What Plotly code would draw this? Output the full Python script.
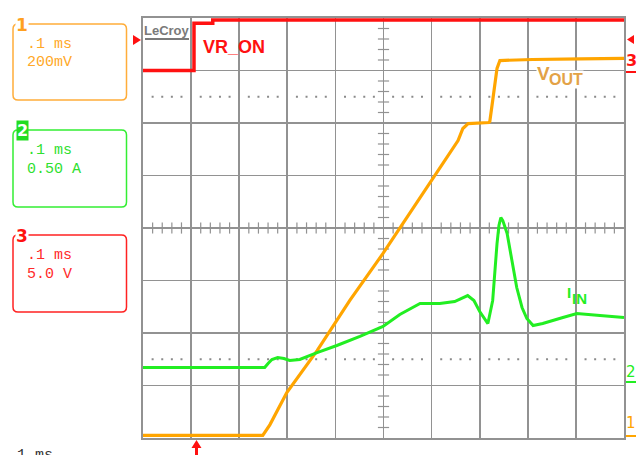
import plotly.graph_objects as go

# ---------------- data ----------------
# time in ms (0.1 ms/div, trigger at t = 0)
vout_t = [-0.110, 0.139, 0.154, 0.189, 0.252, 0.320, 0.389, 0.466, 0.545, 0.555,
          0.566, 0.609, 0.611, 0.617, 0.626, 0.632, 0.700, 0.800, 0.890]
vout_v = [0.010, 0.010, 0.051, 0.173, 0.333, 0.524, 0.703, 0.916, 1.133, 1.179,
          1.198, 1.202, 1.206, 1.286, 1.408, 1.438, 1.442, 1.444, 1.446]

iin_t = [-0.110, 0.143, 0.150, 0.158, 0.170, 0.183, 0.195, 0.216, 0.252, 0.293,
         0.341, 0.389, 0.424, 0.466, 0.507, 0.538, 0.565, 0.578, 0.590, 0.607,
         0.617, 0.622, 0.626, 0.630, 0.634, 0.638, 0.647, 0.657, 0.667, 0.678,
         0.688, 0.701, 0.721, 0.763, 0.792, 0.840, 0.890]
iin_a = [0.121, 0.121, 0.160, 0.198, 0.217, 0.207, 0.188, 0.198, 0.264, 0.331,
         0.417, 0.512, 0.626, 0.731, 0.731, 0.750, 0.807, 0.760, 0.655, 0.540,
         0.760, 1.074, 1.302, 1.474, 1.550, 1.521, 1.398, 1.140, 0.883, 0.693,
         0.588, 0.521, 0.540, 0.598, 0.636, 0.617, 0.598]

vron_t = [-0.110, -0.004, -0.004, 0.035, 0.035, 0.890]
vron_v = [0.0, 0.0, 4.5, 4.5, 4.8, 4.8]

# channel settings (scale per division, ground position in divisions)
ch_labels = {"1": [".1 ms", "200mV"], "2": [".1 ms", "0.50 A"], "3": [".1 ms", "5.0 V"]}
ch1_scale, ch1_gnd = 0.2, 0.0
ch2_scale, ch2_gnd = 0.5, 1.1
ch3_scale, ch3_gnd = 5.0, 7.0
t_div, t_left, n_xdiv, n_ydiv = 0.1, -0.11, 10, 8

# ---------------- styling ----------------
W, H = 638, 455
L, R, T, B = 143, 14, 18, 17
GRID = "#929292"
ORANGE = "#ffa500"
ORANGE_TXT = "#e3a246"
GREEN = "#22ee22"
RED = "#ff1111"


def xp(px):
    return (px - L) / (W - L - R)


def yp(py):
    return (H - B - py) / (H - T - B)


fig = go.Figure()

# centre-axis minor ticks and dotted reference rows (grid decoration)
x_fifths = [t_left + t_div / 5 * k for k in range(1, n_xdiv * 5) if k % 5]
y_fifths = [ch1_scale / 5 * k for k in range(1, n_ydiv * 5) if k % 5]
x_mid = t_left + t_div * n_xdiv / 2
y_mid = ch1_scale * n_ydiv / 2
fig.add_trace(go.Scatter(x=x_fifths, y=[y_mid] * len(x_fifths), mode="markers",
                         marker=dict(symbol="line-ns", size=8, line=dict(width=1.2, color=GRID)),
                         hoverinfo="skip"))
fig.add_trace(go.Scatter(x=[x_mid] * len(y_fifths), y=y_fifths, mode="markers",
                         marker=dict(symbol="line-ew", size=8, line=dict(width=1.2, color=GRID)),
                         hoverinfo="skip"))
for yd in (6.5, 1.5):
    fig.add_trace(go.Scatter(x=x_fifths, y=[yd * ch1_scale] * len(x_fifths), mode="markers",
                             marker=dict(symbol="square", size=2, color="#8a8a8a"),
                             hoverinfo="skip"))

# signal traces
fig.add_trace(go.Scatter(x=iin_t, y=iin_a, yaxis="y2", mode="lines",
                         line=dict(color=GREEN, width=3), hoverinfo="skip"))
fig.add_trace(go.Scatter(x=vout_t, y=vout_v, yaxis="y", mode="lines",
                         line=dict(color=ORANGE, width=3.2), hoverinfo="skip"))
fig.add_trace(go.Scatter(x=vron_t, y=vron_v, yaxis="y3", mode="lines",
                         line=dict(color=RED, width=3.5), hoverinfo="skip"))

axis_common = dict(showticklabels=False, ticks="", zeroline=False, fixedrange=True)
fig.update_layout(
    width=W, height=H,
    margin=dict(l=L, r=R, t=T, b=B),
    paper_bgcolor="white", plot_bgcolor="white",
    showlegend=False,
    xaxis=dict(range=[t_left, t_left + n_xdiv * t_div], tick0=t_left, dtick=t_div,
               showgrid=True, gridcolor=GRID, gridwidth=1.7,
               showline=True, mirror=True, linecolor=GRID, linewidth=1.7, **axis_common),
    yaxis=dict(range=[-ch1_gnd * ch1_scale, (n_ydiv - ch1_gnd) * ch1_scale], tick0=0, dtick=ch1_scale,
               showgrid=True, gridcolor=GRID, gridwidth=1.7,
               showline=True, mirror=True, linecolor=GRID, linewidth=1.7, **axis_common),
    yaxis2=dict(range=[-ch2_gnd * ch2_scale, (n_ydiv - ch2_gnd) * ch2_scale],
                overlaying="y", visible=False, fixedrange=True),
    yaxis3=dict(range=[-ch3_gnd * ch3_scale, (n_ydiv - ch3_gnd) * ch3_scale],
                overlaying="y", visible=False, fixedrange=True),
)


def rrect(x0, y0, x1, y1, r):
    pts = [("M", x0 + r, y0), ("L", x1 - r, y0), ("Q", x1, y0, x1, y0 + r),
           ("L", x1, y1 - r), ("Q", x1, y1, x1 - r, y1), ("L", x0 + r, y1),
           ("Q", x0, y1, x0, y1 - r), ("L", x0, y0 + r), ("Q", x0, y0, x0 + r, y0)]
    s = ""
    for p in pts:
        cmd, coords = p[0], p[1:]
        c = []
        for i in range(0, len(coords), 2):
            c.append(f"{xp(coords[i]):.5f},{yp(coords[i + 1]):.5f}")
        s += cmd + " " + " ".join(c) + " "
    return s + "Z"


shapes = []
boxes = [("1", 24, 100, "#ffad3a"), ("2", 130, 207, "#33ee33"), ("3", 235, 312, "#ff2222")]
for _, top, bot, col in boxes:
    shapes.append(dict(type="path", xref="paper", yref="paper", path=rrect(13, top, 126.5, bot, 5),
                       line=dict(color=col, width=1.5)))


def poly(pts):
    return "M " + " L ".join(f"{xp(a):.5f},{yp(b):.5f}" for a, b in pts) + " Z"


# left trigger-level marker, right-side channel markers, bottom trigger arrow
shapes.append(dict(type="path", xref="paper", yref="paper", path=poly([(133, 35), (141, 40), (133, 45)]),
                   fillcolor=RED, line=dict(width=0)))
shapes.append(dict(type="path", xref="paper", yref="paper", path=poly([(634, 35), (627, 39.5), (634, 44)]),
                   fillcolor=RED, line=dict(width=0)))
shapes.append(dict(type="path", xref="paper", yref="paper",
                   path=poly([(196.5, 440), (201.5, 448), (198, 448), (198, 456), (195, 456), (195, 448), (191.5, 448)]),
                   fillcolor=RED, line=dict(width=0)))
for py, col in ((72, RED), (382, GREEN), (436, ORANGE)):
    shapes.append(dict(type="line", xref="paper", yref="paper", x0=xp(626), x1=xp(636), y0=yp(py), y1=yp(py),
                       line=dict(color=col, width=2)))
# LeCroy underline
shapes.append(dict(type="line", xref="paper", yref="paper", x0=xp(145), x1=xp(189), y0=yp(39), y1=yp(39),
                   line=dict(color="#7a7a7a", width=2)))
fig.update_layout(shapes=shapes)

ann = []


def text(px, py, s, size, color, family="Liberation Sans", xanchor="center", bg=None, yanchor="middle"):
    d = dict(x=xp(px), y=yp(py), xref="paper", yref="paper", text=s, showarrow=False,
             font=dict(size=size, color=color, family=family), xanchor=xanchor, yanchor=yanchor,
             borderpad=0)
    if bg:
        d["bgcolor"] = bg
    ann.append(d)


MONO = "Liberation Mono"
# channel boxes
text(21.5, 25, "<b>1</b>", 17, "#ffa020", family="DejaVu Sans", bg="white")
text(22, 130, "<b>2</b>", 16, "white", family="DejaVu Sans", bg="#22dd22")
text(21.5, 236, "<b>3</b>", 17, RED, family="DejaVu Sans", bg="white")
for (ch, top, _, col) in boxes:
    line1, line2 = ch_labels[ch]
    tc = {"1": "#ffa828", "2": "#2fe02f", "3": "#ff2a2a"}[ch]
    text(26, top + 20, line1, 15, tc, family=MONO, xanchor="left")
    text(26, top + 39, line2, 15, tc, family=MONO, xanchor="left")
text(7, 446, ".1 ms", 15, "#333333", family=MONO, xanchor="left", yanchor="top")

# logo and trace labels
text(167, 30, "<b>LeCroy</b>", 13, "#7a7a7a")
text(234, 47, "<b>VR_ON</b>", 18, RED)
text(543, 74, "<b>V</b>", 19, ORANGE_TXT, bg="white")
text(566, 79.5, "<b>OUT</b>", 16, ORANGE_TXT, bg="white")
text(568.5, 292.5, "<b>I</b>", 15, GREEN)
text(579, 298, "<b>IN</b>", 15, GREEN)

# right-side channel ground markers
text(631, 61, "<b>3</b>", 16, RED, family="DejaVu Sans")
text(630.5, 372, "2", 15, GREEN, family="DejaVu Sans")
text(630.5, 423, "1", 15, ORANGE, family="DejaVu Sans")

fig.update_layout(annotations=ann)

fig.write_html("out.html", config={"displayModeBar": False, "staticPlot": True},
               post_script="document.body.style.margin='0';document.body.style.overflow='hidden';")
